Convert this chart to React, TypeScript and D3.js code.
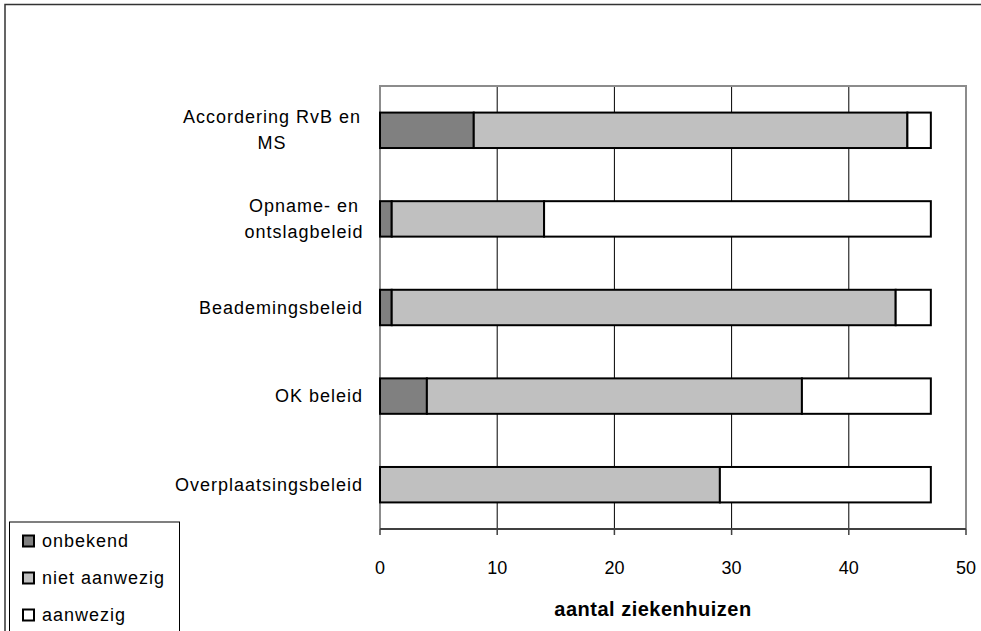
import React from "react";
import * as d3 from "d3";

const categories = [
  ["Accordering RvB en", "MS"],
  ["Opname- en", "ontslagbeleid"],
  ["Beademingsbeleid"],
  ["OK beleid"],
  ["Overplaatsingsbeleid"],
];
const onbekend = [8, 1, 1, 4, 0];
const nietAanwezig = [37, 13, 43, 32, 29];
const aanwezig = [2, 33, 3, 11, 18];
const seriesNames = ["onbekend", "niet aanwezig", "aanwezig"];
const seriesColors = ["#808080", "#c0c0c0", "#ffffff"];
const xTicks = [0, 10, 20, 30, 40, 50];

export default function App() {
  const W = 981, H = 631;
  const left = 380, right = 966, top = 86, bottom = 529;
  const x = d3.scaleLinear().domain([0, 50]).range([left, right]);
  const y = d3.scaleBand<number>().domain(d3.range(categories.length)).range([top, bottom]).paddingInner(0.6).paddingOuter(0.3);
  const rows = categories.map((c, i) => ({ i, vals: [onbekend[i], nietAanwezig[i], aanwezig[i]] }));
  const stack = d3.stack<any>().keys(["0", "1", "2"]).value((d, k) => d.vals[+k]);
  const stacked = stack(rows);
  const font = "'Liberation Sans', Arial, sans-serif";
  const labelRight = 363;
  const ls = 1;
  return (
    <svg width={W} height={H} style={{ position: "absolute", left: 0, top: 0 }} fontFamily={font}>
      <rect x={0} y={0} width={W} height={H} fill="#fff" />
      <rect x={5} y={4.5} width={W + 10} height={H + 10} fill="#fff" stroke="#333" strokeWidth={1.5} />
      {xTicks.slice(1, -1).map((t) => (
        <line key={t} x1={x(t)} x2={x(t)} y1={top} y2={bottom} stroke="#000" strokeWidth={1} />
      ))}
      <path d={`M${left},${bottom} V${top} H${right} V${bottom}`} fill="none" stroke="#8c8c8c" strokeWidth={2} />
      {stacked.map((s, si) =>
        s.map((d, i) =>
          d[1] - d[0] > 0 ? (
            <rect key={`${si}-${i}`} x={x(d[0])} y={y(i)!} width={x(d[1]) - x(d[0])} height={y.bandwidth()}
              fill={seriesColors[si]} stroke="#000" strokeWidth={2} />
          ) : null
        )
      )}
      <line x1={left} x2={right} y1={bottom} y2={bottom} stroke="#404040" strokeWidth={2} />
      {xTicks.map((t) => (
        <g key={t}>
          <line x1={x(t)} x2={x(t)} y1={bottom} y2={bottom + 6} stroke="#404040" strokeWidth={1.5} />
          <text x={x(t)} y={568} textAnchor="middle" dominantBaseline="central" fontSize={18} fill="#000">{t}</text>
        </g>
      ))}
      <text x={653} y={609} textAnchor="middle" dominantBaseline="central" fontSize={20} fontWeight="bold" letterSpacing={0.5} fill="#000">aantal ziekenhuizen</text>
      {categories.map((lines, i) => {
        const cy = y(i)! + y.bandwidth() / 2;
        const lh = 26;
        const y0 = cy - ((lines.length - 1) * lh) / 2;
        return lines.length === 1 ? (
          <text key={i} x={labelRight} y={cy} textAnchor="end" dominantBaseline="central" fontSize={18} letterSpacing={ls} fill="#000">{lines[0]}</text>
        ) : (
          <g key={i}>
            {lines.map((l, j) => (
              <text key={j} x={i === 0 ? 272 : 304} y={y0 + j * lh} textAnchor="middle" dominantBaseline="central" fontSize={18} letterSpacing={ls} fill="#000">{l}</text>
            ))}
          </g>
        );
      })}
      <rect x={9.5} y={522} width={170} height={120} fill="#fff" stroke="#000" strokeWidth={1} />
      {seriesNames.map((n, i) => {
        const cy = 541 + i * 37;
        return (
          <g key={n}>
            <rect x={23} y={cy - 5.5} width={11} height={11} fill={seriesColors[i]} stroke="#000" strokeWidth={2} />
            <text x={42} y={cy} dominantBaseline="central" fontSize={18} letterSpacing={ls} fill="#000">{n}</text>
          </g>
        );
      })}
    </svg>
  );
}
